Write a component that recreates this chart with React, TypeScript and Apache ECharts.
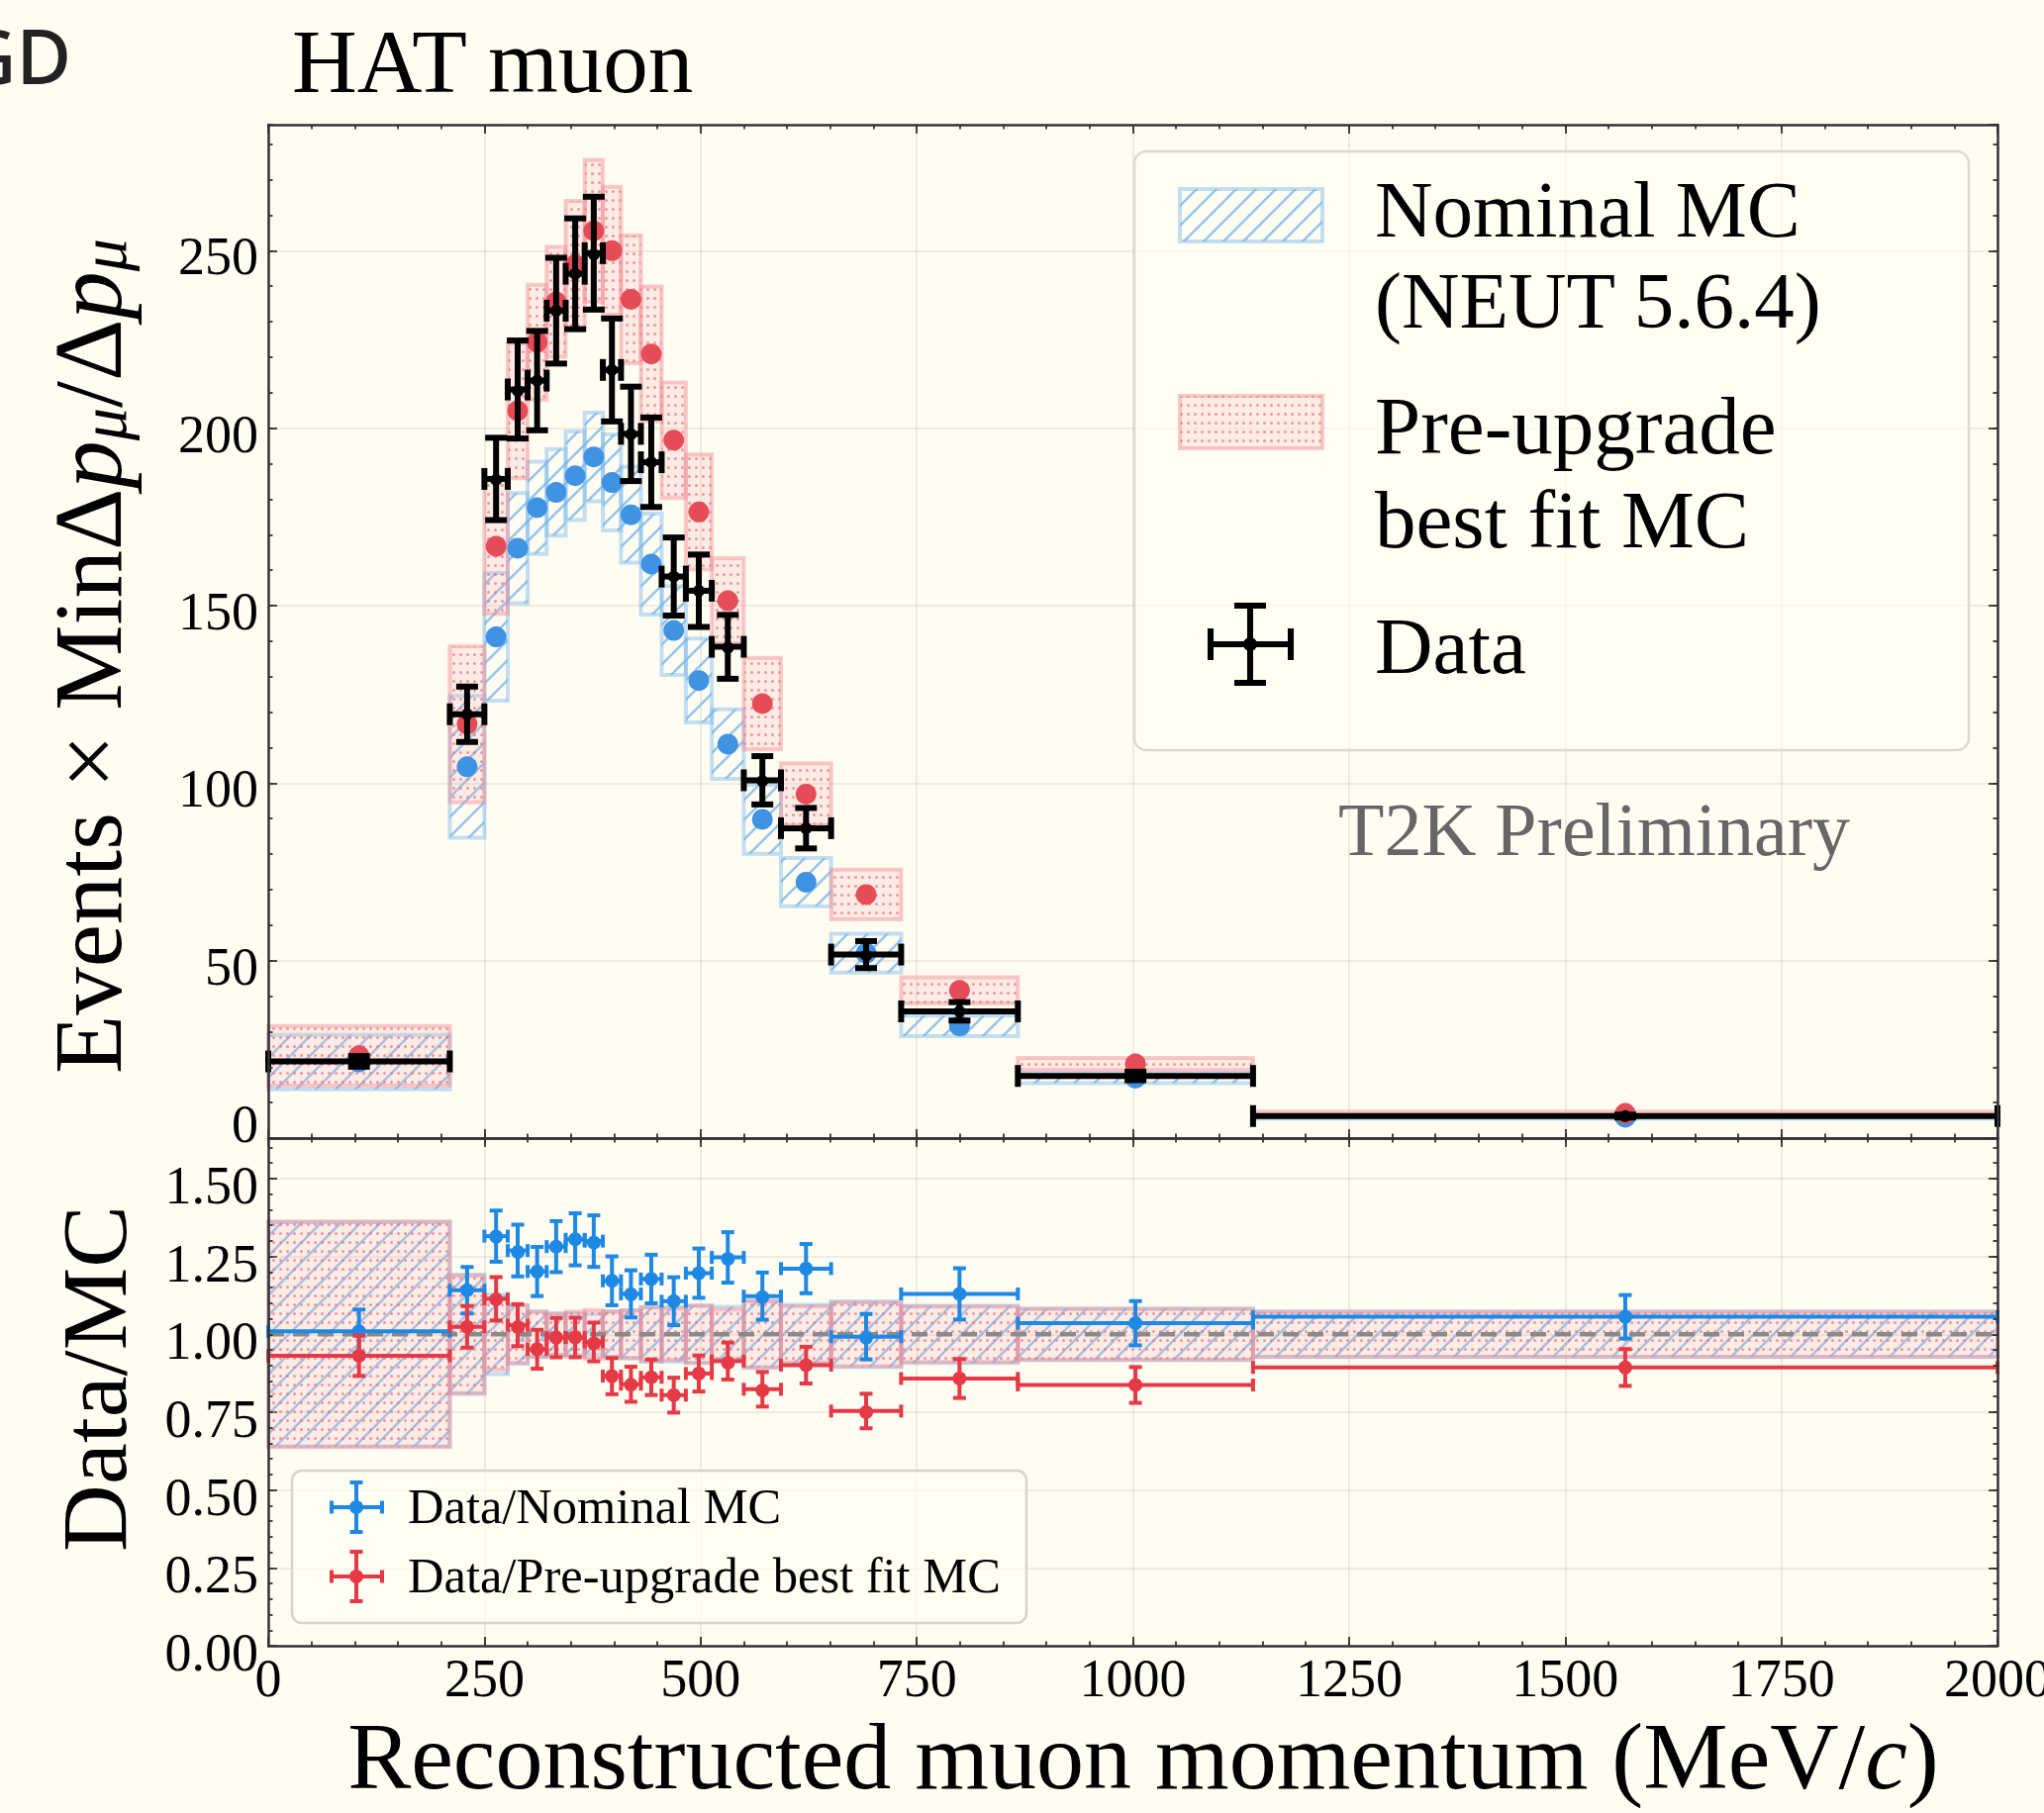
import React, { useEffect, useRef } from 'react';
import * as echarts from 'echarts';

// ---------------- data ----------------
const binEdges = [0, 210, 250, 277, 300, 322, 344, 366, 387, 408, 431, 455, 483, 513, 550, 593, 651, 732, 867, 1139, 2000];
const dataValues = [21.6, 119.4, 185.7, 210.9, 213.4, 233.1, 243.5, 249.3, 216.4, 198.4, 190.4, 158.2, 154.2, 138.4, 100.8, 87.3, 51.7, 35.7, 17.5, 6.2];
const dataErrors = [1.5, 7.8, 11.6, 13.8, 14.0, 14.9, 15.6, 15.9, 14.5, 13.3, 12.6, 11.0, 10.2, 9.0, 6.8, 5.7, 3.8, 2.6, 1.2, 0.41];
const nominalMC = [21.4, 104.6, 141.2, 166.2, 177.6, 181.9, 186.6, 191.9, 184.7, 175.6, 161.7, 143.0, 128.9, 111.0, 89.8, 72.1, 52.1, 31.6, 16.9, 5.87];
const nominalErr = [7.7, 20.0, 18.0, 15.5, 13.0, 12.2, 12.5, 12.5, 13.5, 13.5, 14.2, 12.5, 11.8, 9.8, 9.7, 6.8, 5.5, 2.9, 1.4, 0.43];
const bestFitMC = [23.2, 116.6, 166.7, 204.9, 224.2, 235.6, 246.0, 255.6, 250.0, 236.3, 220.9, 196.6, 176.4, 151.4, 122.4, 96.9, 68.6, 41.6, 20.9, 6.94];
const bestFitErr = [8.4, 22.0, 19.0, 19.0, 16.2, 15.5, 18.0, 20.0, 18.0, 18.0, 19.0, 16.3, 16.2, 12.0, 12.9, 8.7, 7.0, 3.7, 1.7, 0.5];

const xMax = 2000;
const xMajorStep = 250;
const xMinorStep = 50;
const topYMax = 285.5;
const topYMajorStep = 50;
const topYMinorStep = 10;
const ratioYMax = 1.63;
const ratioYMajorStep = 0.25;
const ratioYMinorStep = 0.05;

// ---------------- texts ----------------
const titleText = 'HAT muon';
const cornerText = 'GD';
const xAxisTitle = 'Reconstructed muon momentum (MeV/{it|c})';
const topYTitle = 'Events × MinΔ{it|p}{sub|μ}/Δ{it|p}{sub|μ}';
const ratioYTitle = 'Data/MC';
const legendNominal = ['Nominal MC', '(NEUT 5.6.4)'];
const legendBestFit = ['Pre-upgrade', 'best fit MC'];
const legendData = 'Data';
const ratioLegend = ['Data/Nominal MC', 'Data/Pre-upgrade best fit MC'];
const watermark = 'T2K Preliminary';

// ---------------- styles ----------------
const BG = '#fffdf2';
const SERIF = '"Liberation Serif", "Times New Roman", serif';
const BLUE = '#1e88e5';
const RED = '#e53945';
const BLUE_DOT = '#3f93e2';
const RED_DOT = '#e64c58';
const AXIS = '#333333';
const GRID = 'rgba(0,0,0,0.09)';
const BLUE_EDGE = 'rgba(120,184,236,0.45)';
const RED_EDGE = 'rgba(240,140,150,0.45)';

function makeHatch() {
  const s = 20;
  const c = document.createElement('canvas');
  c.width = s;
  c.height = s;
  const g = c.getContext('2d');
  if (g) {
    g.strokeStyle = 'rgba(104,172,232,0.7)';
    g.lineWidth = 2.5;
    g.beginPath();
    for (const k of [0, s, 2 * s]) {
      g.moveTo(-2, k + 2);
      g.lineTo(s + 2, k - s - 2);
    }
    g.stroke();
  }
  return c;
}

function makeDots() {
  const w = 7;
  const h = 9;
  const c = document.createElement('canvas');
  c.width = w;
  c.height = h;
  const g = c.getContext('2d');
  if (g) {
    g.fillStyle = 'rgba(246,170,176,0.2)';
    g.fillRect(0, 0, w, h);
    g.fillStyle = 'rgba(236,112,124,0.7)';
    g.beginPath();
    g.arc(3.5, 4.5, 1.5, 0, Math.PI * 2);
    g.fill();
  }
  return c;
}

function boxRender(fill: any, stroke: string, lw: number) {
  return (_p: any, api: any) => {
    const x0 = api.value(0);
    const x1 = api.value(1);
    const lo = api.value(2);
    const hi = api.value(3);
    const a = api.coord([x0, hi]);
    const b = api.coord([x1, lo]);
    return {
      type: 'rect',
      shape: { x: a[0], y: a[1], width: b[0] - a[0], height: b[1] - a[1] },
      style: { fill, stroke, lineWidth: lw },
    };
  };
}

function errLines(cx: number, cy: number, L: number, R: number, T: number, B: number, color: string, lw: number, cap: number, r: number) {
  const st = { stroke: color, lineWidth: lw };
  const h = cap / 2;
  const ln = (a: number, b: number, c: number, d: number) => ({ type: 'line', shape: { x1: a, y1: b, x2: c, y2: d }, style: st });
  return [
    ln(L, cy, R, cy),
    ln(cx, T, cx, B),
    ln(L, cy - h, L, cy + h),
    ln(R, cy - h, R, cy + h),
    ln(cx - h, T, cx + h, T),
    ln(cx - h, B, cx + h, B),
    { type: 'circle', shape: { cx, cy, r }, style: { fill: color } },
  ];
}

function errRender(color: string, lw: number, cap: number, r: number) {
  return (_p: any, api: any) => {
    const x0 = api.value(0);
    const x1 = api.value(1);
    const xc = api.value(2);
    const y = api.value(3);
    const e = api.value(4);
    const Lp = api.coord([x0, y]);
    const Rp = api.coord([x1, y]);
    const Tp = api.coord([xc, y + e]);
    const Bp = api.coord([xc, y - e]);
    const Cp = api.coord([xc, y]);
    return { type: 'group', children: errLines(Cp[0], Cp[1], Lp[0], Rp[0], Tp[1], Bp[1], color, lw, cap, r) };
  };
}

const isMultiple = (v: number, step: number) => Math.abs(v / step - Math.round(v / step)) < 1e-6;

function xAxes(grid: number, labels: boolean) {
  const mk = (pos: string, major: boolean) => ({
    type: 'value',
    gridIndex: grid,
    position: pos,
    min: 0,
    max: xMax,
    interval: major ? xMajorStep : xMinorStep,
    z: major ? 1 : 10,
    axisLine: { show: !major, onZero: false, lineStyle: { color: AXIS, width: 2.5 } },
    axisTick: { show: true, inside: true, length: major ? 9 : 4.5, lineStyle: { color: AXIS, width: 1.8 } },
    axisLabel: {
      show: labels && major && pos === 'bottom',
      showMinLabel: true,
      showMaxLabel: true,
      margin: 6,
      color: '#000',
      fontSize: 54,
      fontFamily: SERIF,
      formatter: (v: number) => String(v),
    },
    splitLine: { show: major && pos === 'bottom', lineStyle: { color: GRID, width: 1.6 } },
  });
  return [mk('bottom', true), mk('bottom', false), mk('top', true), mk('top', false)];
}

function yAxes(grid: number, max: number, majorStep: number, minorStep: number, fmt: (v: number) => string, zeroLift: number, pad: number) {
  const mk = (pos: string, major: boolean) => ({
    type: 'value',
    gridIndex: grid,
    position: pos,
    min: 0,
    max,
    interval: major ? majorStep : minorStep,
    z: major ? 1 : 10,
    axisLine: { show: !major, onZero: false, lineStyle: { color: AXIS, width: 2.5 } },
    axisTick: { show: true, inside: true, length: major ? 9 : 4.5, lineStyle: { color: AXIS, width: 1.8 } },
    axisLabel: {
      show: major && pos === 'left',
      showMinLabel: true,
      showMaxLabel: false,
      margin: 10,
      color: '#000',
      fontSize: 54,
      fontFamily: SERIF,
      formatter: (v: number) => {
        if (!isMultiple(v, majorStep)) return '';
        if (v === 0 && zeroLift > 0) return '{z|' + fmt(v) + '}';
        return '{n|' + fmt(v) + '}';
      },
      rich: {
        n: { fontSize: 54, fontFamily: SERIF, color: '#000', padding: [pad, 0, 0, 0] },
        z: { fontSize: 54, fontFamily: SERIF, color: '#000', padding: [0, 0, zeroLift, 0] },
      },
    },
    splitLine: { show: major && pos === 'left', lineStyle: { color: GRID, width: 1.6 } },
  });
  return [mk('left', true), mk('left', false), mk('right', true), mk('right', false)];
}

export default function App() {
  const ref = useRef<HTMLDivElement>(null);

  useEffect(() => {
    if (!ref.current) return;
    const chart = echarts.init(ref.current, null, { renderer: 'svg' });

    const hatch = { image: makeHatch(), repeat: 'repeat' };
    const dots = { image: makeDots(), repeat: 'repeat' };

    const centers = binEdges.slice(0, -1).map((e, i) => (e + binEdges[i + 1]) / 2);
    const dataRows = dataValues.map((v, i) => [binEdges[i], binEdges[i + 1], centers[i], v, dataErrors[i]]);
    const nomBoxes = nominalMC.map((v, i) => [binEdges[i], binEdges[i + 1], v - nominalErr[i], v + nominalErr[i]]);
    const fitBoxes = bestFitMC.map((v, i) => [binEdges[i], binEdges[i + 1], v - bestFitErr[i], v + bestFitErr[i]]);
    const nomPts = nominalMC.map((v, i) => [centers[i], v]);
    const fitPts = bestFitMC.map((v, i) => [centers[i], v]);
    const nomRatio = dataValues.map((v, i) => [binEdges[i], binEdges[i + 1], centers[i], v / nominalMC[i], dataErrors[i] / nominalMC[i]]);
    const fitRatio = dataValues.map((v, i) => [binEdges[i], binEdges[i + 1], centers[i], v / bestFitMC[i], dataErrors[i] / bestFitMC[i]]);
    const nomBand = nominalMC.map((v, i) => [binEdges[i], binEdges[i + 1], 1 - nominalErr[i] / v, 1 + nominalErr[i] / v]);
    const fitBand = bestFitMC.map((v, i) => [binEdges[i], binEdges[i + 1], 1 - bestFitErr[i] / v, 1 + bestFitErr[i] / v]);

    const txt = (text: string, x: number, y: number, size: number, extra: any = {}, el: any = {}) => ({
      type: 'text',
      x,
      y,
      z: 60,
      ...el,
      style: {
        text,
        fontSize: size,
        fontFamily: SERIF,
        fill: '#000',
        align: 'left',
        textAlign: 'left',
        verticalAlign: 'middle',
        textVerticalAlign: 'middle',
        ...extra,
      },
    });

    const graphics: any[] = [
      // corner fragment
      txt(cornerText, 72, 55, 76, { fontFamily: '"Noto Sans", "DejaVu Sans", sans-serif', fontWeight: 500, fill: '#222', align: 'right', textAlign: 'right' }),
      // title
      txt(titleText, 295, 62, 91),
      // axis titles
      txt(topYTitle, 89, 663, 97, {
        align: 'center', textAlign: 'center',
        rich: {
          it: { fontSize: 97, fontFamily: SERIF, fontStyle: 'italic', fill: '#000' },
          sub: { fontSize: 66, fontFamily: SERIF, fontStyle: 'italic', fill: '#000', verticalAlign: 'bottom', lineHeight: 42 },
        },
      }, { rotation: Math.PI / 2 }),
      txt(ratioYTitle, 95, 1393, 94, { align: 'center', textAlign: 'center' }, { rotation: Math.PI / 2 }),
      txt(xAxisTitle, 1155, 1774, 96, {
        align: 'center', textAlign: 'center', lineHeight: 86,
        rich: { it: { fontSize: 96, fontFamily: SERIF, fontStyle: 'italic', fill: '#000', lineHeight: 86 } },
      }),
      // top legend
      { type: 'rect', z: 55, shape: { x: 1146, y: 153, width: 843, height: 605, r: 12 }, style: { fill: 'rgba(255,253,242,0.7)', stroke: '#dcdad2', lineWidth: 2.5 } },
      { type: 'rect', z: 58, shape: { x: 1192, y: 191, width: 144, height: 53 }, style: { fill: hatch, stroke: BLUE_EDGE, lineWidth: 4 } },
      { type: 'rect', z: 58, shape: { x: 1192, y: 400, width: 144, height: 53 }, style: { fill: dots, stroke: RED_EDGE, lineWidth: 4 } },
      { type: 'group', z: 58, children: errLines(1263, 651, 1223, 1304, 612, 690, '#000', 6, 32, 7).map((c: any) => ({ ...c, z: 58 })) },
      txt(legendNominal[0], 1389, 212, 81),
      txt(legendNominal[1], 1389, 304, 81),
      txt(legendBestFit[0], 1389, 430, 83),
      txt(legendBestFit[1], 1389, 525, 83),
      txt(legendData, 1389, 653, 81),
      // watermark
      txt(watermark, 1352, 838, 76, { fill: '#666666' }),
      // ratio legend
      { type: 'rect', z: 55, shape: { x: 295, y: 1486, width: 742, height: 154, r: 10 }, style: { fill: 'rgba(255,253,242,0.75)', stroke: '#d6d4cc', lineWidth: 2.5 } },
      { type: 'group', z: 58, children: errLines(360, 1523, 335, 386, 1498, 1548, BLUE, 4, 13, 7).map((c: any) => ({ ...c, z: 58 })) },
      { type: 'group', z: 58, children: errLines(360, 1593, 335, 386, 1568, 1618, RED, 4, 13, 7).map((c: any) => ({ ...c, z: 58 })) },
      txt(ratioLegend[0], 412, 1522, 50.5),
      txt(ratioLegend[1], 412, 1592, 50.5),
    ];

    const option: any = {
      animation: false,
      backgroundColor: BG,
      grid: [
        { left: 271, top: 126, width: 1747, height: 1024, outerBoundsMode: 'none', containLabel: false },
        { left: 271, top: 1150, width: 1747, height: 513, outerBoundsMode: 'none', containLabel: false },
      ],
      xAxis: [...xAxes(0, false), ...xAxes(1, true)],
      yAxis: [
        ...yAxes(0, topYMax, topYMajorStep, topYMinorStep, (v) => String(v), 28, 12),
        ...yAxes(1, ratioYMax, ratioYMajorStep, ratioYMinorStep, (v) => v.toFixed(2), 0, 14),
      ],
      graphic: { elements: graphics },
      series: [
        { type: 'custom', name: 'Nominal MC', xAxisIndex: 0, yAxisIndex: 0, data: nomBoxes, renderItem: boxRender(hatch, BLUE_EDGE, 4), z: 2 },
        { type: 'custom', name: 'Pre-upgrade best fit MC', xAxisIndex: 0, yAxisIndex: 0, data: fitBoxes, renderItem: boxRender(dots, RED_EDGE, 4), z: 2 },
        { type: 'scatter', name: 'Nominal MC points', xAxisIndex: 0, yAxisIndex: 0, data: nomPts, symbol: 'circle', symbolSize: 21, itemStyle: { color: BLUE_DOT, opacity: 1 }, z: 3 },
        { type: 'scatter', name: 'Best fit points', xAxisIndex: 0, yAxisIndex: 0, data: fitPts, symbol: 'circle', symbolSize: 21, itemStyle: { color: RED_DOT, opacity: 1 }, z: 3 },
        { type: 'custom', name: 'Data', xAxisIndex: 0, yAxisIndex: 0, data: dataRows, renderItem: errRender('#000', 6, 22, 6), z: 4 },
        { type: 'custom', name: 'Nominal band', xAxisIndex: 4, yAxisIndex: 4, data: nomBand, renderItem: boxRender(hatch, BLUE_EDGE, 4), z: 2 },
        { type: 'custom', name: 'Best fit band', xAxisIndex: 4, yAxisIndex: 4, data: fitBand, renderItem: boxRender(dots, RED_EDGE, 4), z: 2 },
        {
          type: 'line', name: 'unity', xAxisIndex: 4, yAxisIndex: 4, data: [[0, 1], [xMax, 1]], showSymbol: false, symbol: 'none',
          lineStyle: { color: '#8a8a8a', width: 4.5, type: [16, 9] }, z: 3,
        },
        { type: 'custom', name: 'Data/Nominal MC', xAxisIndex: 4, yAxisIndex: 4, data: nomRatio, renderItem: errRender(BLUE, 4, 13, 7), z: 4 },
        { type: 'custom', name: 'Data/Pre-upgrade best fit MC', xAxisIndex: 4, yAxisIndex: 4, data: fitRatio, renderItem: errRender(RED, 4, 13, 7), z: 4 },
      ],
    };

    chart.setOption(option);
    return () => {
      chart.dispose();
    };
  }, []);

  return (
    <div
      ref={ref}
      style={{ position: 'absolute', left: 0, top: 0, width: 2065, height: 1832, background: BG }}
    />
  );
}
